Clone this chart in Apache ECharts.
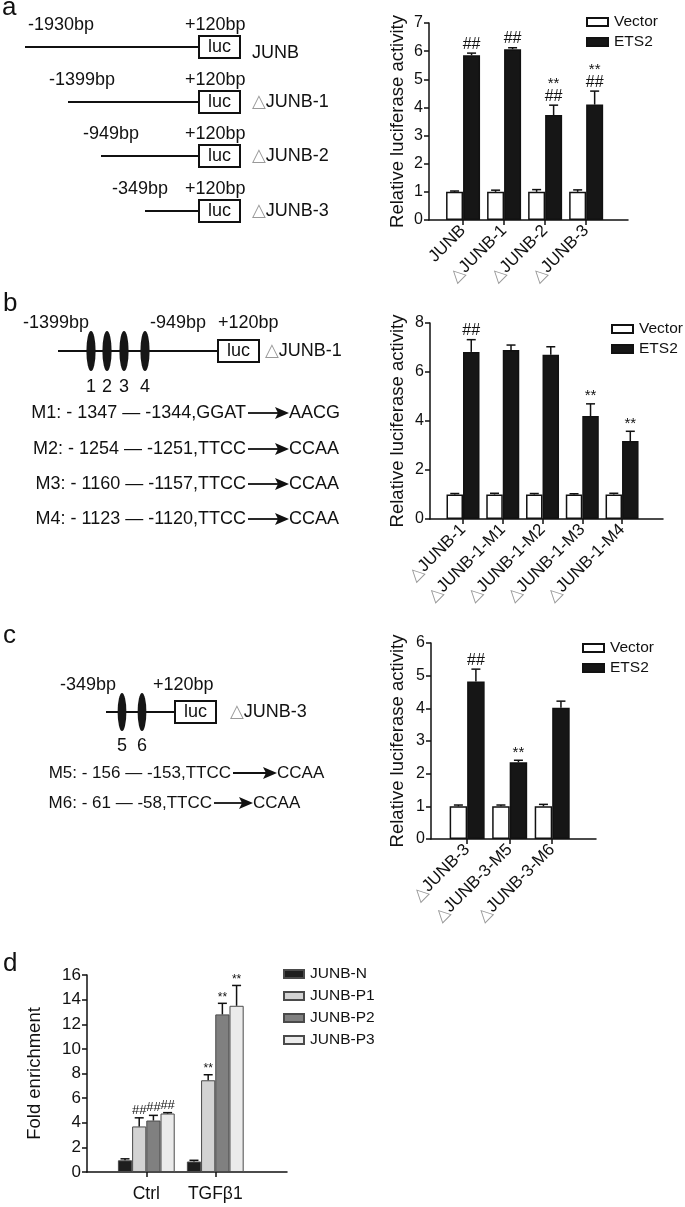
<!DOCTYPE html>
<html>
<head>
<meta charset="utf-8">
<script src="https://cdn.jsdelivr.net/npm/echarts@6/dist/echarts.min.js"></script>
<style>
html, body { margin: 0; padding: 0; background: #fff; }
#main { width: 685px; height: 1207px; }
</style>
</head>
<body>
<div id="main"></div>
<script>
// ---- data ----
// panel a
const catsA = ['JUNB', '△JUNB-1', '△JUNB-2', '△JUNB-3'];
const vecA = [1.0, 1.0, 1.0, 1.0];
const vecErrA = [0.03, 0.06, 0.08, 0.07];
const etsA = [5.85, 6.07, 3.73, 4.1];
const etsErrA = [0.08, 0.05, 0.35, 0.48];
const hashA = ['##', '##', '##', '##'];
const starA = ['', '', '**', '**'];

// panel b
const catsB = ['△JUNB-1', '△JUNB-1-M1', '△JUNB-1-M2', '△JUNB-1-M3', '△JUNB-1-M4'];
const vecB = [1.0, 1.0, 1.0, 1.0, 1.0];
const vecErrB = [0.04, 0.05, 0.04, 0.03, 0.05];
const etsB = [6.82, 6.9, 6.7, 4.2, 3.18];
const etsErrB = [0.5, 0.2, 0.33, 0.5, 0.4];
const hashB = ['##', '', '', '', ''];
const starB = ['', '', '', '**', '**'];

// panel c
const catsC = ['△JUNB-3', '△JUNB-3-M5', '△JUNB-3-M6'];
const vecC = [1.0, 1.0, 1.0];
const vecErrC = [0.04, 0.04, 0.06];
const etsC = [4.82, 2.35, 4.02];
const etsErrC = [0.38, 0.06, 0.2];
const hashC = ['##', '', ''];
const starC = ['', '**', ''];

// panel d
const catsD = ['Ctrl', 'TGFβ1'];
const namesD = ['JUNB-N', 'JUNB-P1', 'JUNB-P2', 'JUNB-P3'];
const valsD = [[0.95, 0.85], [3.7, 7.45], [4.18, 12.8], [4.75, 13.5]];
const errsD = [[0.12, 0.1], [0.7, 0.45], [0.42, 0.9], [0.07, 1.65]];
const hashD = [['', ''], ['##', ''], ['##', ''], ['##', '']];
const starD = [['', ''], ['', '**'], ['', '**'], ['', '**']];
const colorsD = ['#1e1e1e', '#d3d3d3', '#808080', '#ebebeb'];

// diagram labels
const constructsA = ['JUNB', '△JUNB-1', '△JUNB-2', '△JUNB-3'];
const startsA = ['-1930bp', '-1399bp', '-949bp', '-349bp'];
const mutB = [['M1: - 1347 — -1344,GGAT', 'AACG'], ['M2: - 1254 — -1251,TTCC', 'CCAA'],
  ['M3: - 1160 — -1157,TTCC', 'CCAA'], ['M4: - 1123 — -1120,TTCC', 'CCAA']];
const mutC = [['M5: - 156 — -153,TTCC', 'CCAA'], ['M6: - 61 — -58,TTCC', 'CCAA']];

const FONT = "'Liberation Sans', Arial, 'DejaVu Sans', sans-serif";
const INK = '#111';

// ---- helpers ----
function triLabel(s) {
  return s.charAt(0) === '△' ? '{t|△}' + s.slice(1) : s;
}

function xAxisOf(gi, cats, min, max, fs, rotate) {
  const idx = cats.map((c, i) => i);
  return {
    type: 'value', gridIndex: gi, min: min, max: max,
    axisLine: { show: true, onZero: false, lineStyle: { color: INK, width: 1.5 } },
    axisTick: { show: true, customValues: idx, length: 5, lineStyle: { color: INK, width: 1.5 } },
    axisLabel: {
      customValues: idx, rotate: rotate, margin: rotate ? 8 : 13,
      color: INK, fontSize: fs, fontFamily: FONT,
      formatter: v => triLabel(cats[Math.round(v)] || ''),
      rich: { t: { color: '#999', fontSize: fs, fontFamily: FONT } }
    },
    splitLine: { show: false }
  };
}

function yAxisOf(gi, max, interval, name, gap, fs) {
  return {
    type: 'value', gridIndex: gi, min: 0, max: max, interval: interval,
    name: name, nameLocation: 'middle', nameGap: gap,
    nameTextStyle: { color: INK, fontSize: 18.5, fontFamily: FONT },
    axisLine: { show: true, onZero: false, lineStyle: { color: INK, width: 1.5 } },
    axisTick: { show: true, length: 5, lineStyle: { color: INK, width: 1.5 } },
    axisLabel: { color: INK, fontSize: fs, fontFamily: FONT, margin: 6 },
    splitLine: { show: false }
  };
}

function errSeries(gi, vals, errs, shift, hashes, stars, cap, fs) {
  return {
    type: 'custom', coordinateSystem: 'cartesian2d', name: 'err' + gi,
    xAxisIndex: gi, yAxisIndex: gi, z: 5, silent: true,
    data: vals.map((v, i) => [i, v, errs[i]]),
    renderItem: function (params, api) {
      const i = params.dataIndex;
      const base = api.coord([api.value(0), api.value(1)]);
      const top = api.coord([api.value(0), api.value(1) + api.value(2)]);
      const x = base[0] + shift;
      const kids = [
        { type: 'line', shape: { x1: x, y1: base[1], x2: x, y2: top[1] }, style: { stroke: INK, lineWidth: 1.5 } },
        { type: 'line', shape: { x1: x - cap, y1: top[1], x2: x + cap, y2: top[1] }, style: { stroke: INK, lineWidth: 1.5 } }
      ];
      let yb = top[1] - 1;
      if (hashes[i]) {
        kids.push({ type: 'text', style: { text: hashes[i], x: x, y: yb, fill: INK,
          font: fs + 'px ' + FONT, align: 'center', verticalAlign: 'bottom',
          textAlign: 'center', textVerticalAlign: 'bottom' } });
        yb -= fs - 2;
      }
      if (stars[i]) {
        kids.push({ type: 'text', style: { text: stars[i], x: x, y: yb + 1, fill: INK,
          font: (fs - 1) + 'px ' + FONT, align: 'center', verticalAlign: 'bottom',
          textAlign: 'center', textVerticalAlign: 'bottom' } });
      }
      return { type: 'group', children: kids };
    }
  };
}

function pairPanel(gi, vec, vecErr, ets, etsErr, hashes, stars, bw) {
  const none = vec.map(() => '');
  return [
    { type: 'bar', name: 'Vector', xAxisIndex: gi, yAxisIndex: gi, barWidth: bw, barGap: '0%',
      data: vec.map((v, i) => [i, v]),
      itemStyle: { color: '#fff', borderColor: INK, borderWidth: 1.5 } },
    { type: 'bar', name: 'ETS2', xAxisIndex: gi, yAxisIndex: gi, barWidth: bw, barGap: '0%',
      data: ets.map((v, i) => [i, v]),
      itemStyle: { color: '#161616', borderColor: INK, borderWidth: 1.5 } },
    errSeries(gi, vec, vecErr, -bw / 2, none, none, 4.5, 16),
    errSeries(gi, ets, etsErr, bw / 2, hashes, stars, 4.5, 16)
  ];
}

function legendPair(left, top) {
  return {
    data: ['Vector', 'ETS2'], orient: 'vertical', left: left, top: top,
    itemWidth: 21, itemHeight: 8, itemGap: 4, icon: 'rect', selectedMode: false,
    textStyle: { color: INK, fontSize: 15.5, fontFamily: FONT, lineHeight: 16, padding: [0, 0, 0, 1] }
  };
}

// ---- diagram graphics ----
function txt(x, y, s, size, align) {
  return { type: 'text', x: x, y: y, silent: true,
    style: { text: s, fill: INK, font: size + 'px ' + FONT,
      align: align || 'left', verticalAlign: 'middle',
      textAlign: align || 'left', textVerticalAlign: 'middle',
      rich: { t: { fill: '#999', font: size + 'px ' + FONT } } } };
}
function seg(x1, y1, x2, y2, w) {
  return { type: 'line', silent: true, shape: { x1: x1, y1: y1, x2: x2, y2: y2 }, style: { stroke: INK, lineWidth: w || 2 } };
}
function lucBox(x, y) {
  return [
    { type: 'rect', silent: true, shape: { x: x, y: y - 11, width: 41, height: 22 }, style: { fill: '#fff', stroke: INK, lineWidth: 2 } },
    txt(x + 20.5, y, 'luc', 18, 'center')
  ];
}
function oval(cx, cy, ry) {
  return { type: 'circle', silent: true, x: cx, y: cy, scaleX: 0.23, shape: { cx: 0, cy: 0, r: ry }, style: { fill: '#161616' } };
}
function arrow(x1, x2, y) {
  return [
    seg(x1, y, x2 - 10, y, 1.8),
    { type: 'polygon', silent: true, shape: { points: [[x2 - 14, y - 6], [x2, y], [x2 - 14, y + 6], [x2 - 11, y]] }, style: { fill: INK } }
  ];
}

const g = [];
// panel letters
g.push(txt(2, 8, 'a', 26), txt(3, 304, 'b', 26), txt(3, 636, 'c', 26), txt(3, 964, 'd', 26));

// a: deletion constructs
const rowYA = [47, 102, 156, 211];
const lineStartA = [25, 68, 101, 145];
const startXA = [28, 49, 83, 112];
rowYA.forEach((y, i) => {
  g.push(seg(lineStartA[i], y, 199, y));
  g.push(...lucBox(199, y));
  g.push(txt(startXA[i], y - 22, startsA[i], 18));
  g.push(txt(185, y - 22, '+120bp', 18));
  g.push(txt(252, i === 0 ? y + 6 : y, triLabel(constructsA[i]), 18));
});

// b: JUNB-1 with sites 1-4
g.push(seg(58, 351, 218, 351));
[91, 107, 124, 145].forEach((x, i) => {
  g.push(oval(x, 351, 20));
  g.push(txt(x, 387, String(i + 1), 18, 'center'));
});
g.push(...lucBox(218, 351));
g.push(txt(23, 323, '-1399bp', 18), txt(150, 323, '-949bp', 18), txt(218, 323, '+120bp', 18));
g.push(txt(265, 351, triLabel('△JUNB-1'), 18));
[413, 449, 484, 519].forEach((y, i) => {
  g.push(txt(246, y, mutB[i][0], 18, 'right'));
  g.push(...arrow(248, 289, y));
  g.push(txt(289, y, mutB[i][1], 18));
});

// c: JUNB-3 with sites 5-6
g.push(seg(106, 712, 175, 712));
[122, 142].forEach((x, i) => {
  g.push(oval(x, 712, 19));
  g.push(txt(x, 746, String(i + 5), 18, 'center'));
});
g.push(...lucBox(175, 712));
g.push(txt(60, 685, '-349bp', 18), txt(153, 685, '+120bp', 18));
g.push(txt(230, 712, triLabel('△JUNB-3'), 18));
const rowC = [[773, 232, 277], [803, 213, 253]];
rowC.forEach((r, i) => {
  g.push(txt(r[1] - 1, r[0], mutC[i][0], 17, 'right'));
  g.push(...arrow(r[1] + 1, r[2], r[0]));
  g.push(txt(r[2], r[0], mutC[i][1], 17));
});

// ---- series ----
let series = [];
series = series.concat(pairPanel(0, vecA, vecErrA, etsA, etsErrA, hashA, starA, 17));
series = series.concat(pairPanel(1, vecB, vecErrB, etsB, etsErrB, hashB, starB, 16.5));
series = series.concat(pairPanel(2, vecC, vecErrC, etsC, etsErrC, hashC, starC, 17.5));
const bwD = 14.2;
namesD.forEach((n, k) => {
  series.push({ type: 'bar', name: n, xAxisIndex: 3, yAxisIndex: 3, barWidth: bwD, barGap: '0%',
    data: valsD[k].map((v, i) => [i, v]),
    itemStyle: { color: colorsD[k], borderColor: '#4a4a4a', borderWidth: 1 } });
});
namesD.forEach((n, k) => {
  series.push(errSeries(3, valsD[k], errsD[k], (k - 1.5) * bwD, hashD[k], starD[k], 4.5, 13));
});

const option = {
  animation: false,
  backgroundColor: '#fff',
  textStyle: { fontFamily: FONT },
  grid: [
    { left: 429, top: 23, width: 199, height: 197 },
    { left: 430, top: 323, width: 233, height: 196 },
    { left: 431, top: 643, width: 165, height: 196 },
    { left: 87, top: 975, width: 200, height: 197 }
  ],
  xAxis: [
    xAxisOf(0, catsA, -0.83, 4.02, 17, 45),
    xAxisOf(1, catsB, -0.83, 5.03, 17, 45),
    xAxisOf(2, catsC, -0.85, 3.03, 17, 45),
    xAxisOf(3, catsD, -0.86, 2.04, 17.5, 0)
  ],
  yAxis: [
    yAxisOf(0, 7, 1, 'Relative luciferase activity', 22, 16),
    yAxisOf(1, 8, 2, 'Relative luciferase activity', 23, 16),
    yAxisOf(2, 6, 1, 'Relative luciferase activity', 24, 16),
    yAxisOf(3, 16, 2, 'Fold enrichment', 43, 17)
  ],
  legend: [
    legendPair(581, 9),
    legendPair(606, 316),
    legendPair(577, 635),
    { data: namesD, orient: 'vertical', left: 278, top: 961,
      itemWidth: 20, itemHeight: 8, itemGap: 6, icon: 'rect', selectedMode: false,
      textStyle: { color: INK, fontSize: 15.5, fontFamily: FONT, lineHeight: 16, padding: [0, 0, 0, 1] } }
  ],
  graphic: g,
  series: series
};

const chart = echarts.init(document.getElementById('main'));
chart.setOption(option);
window.addEventListener('resize', function () { chart.resize(); });
</script>
</body>
</html>
